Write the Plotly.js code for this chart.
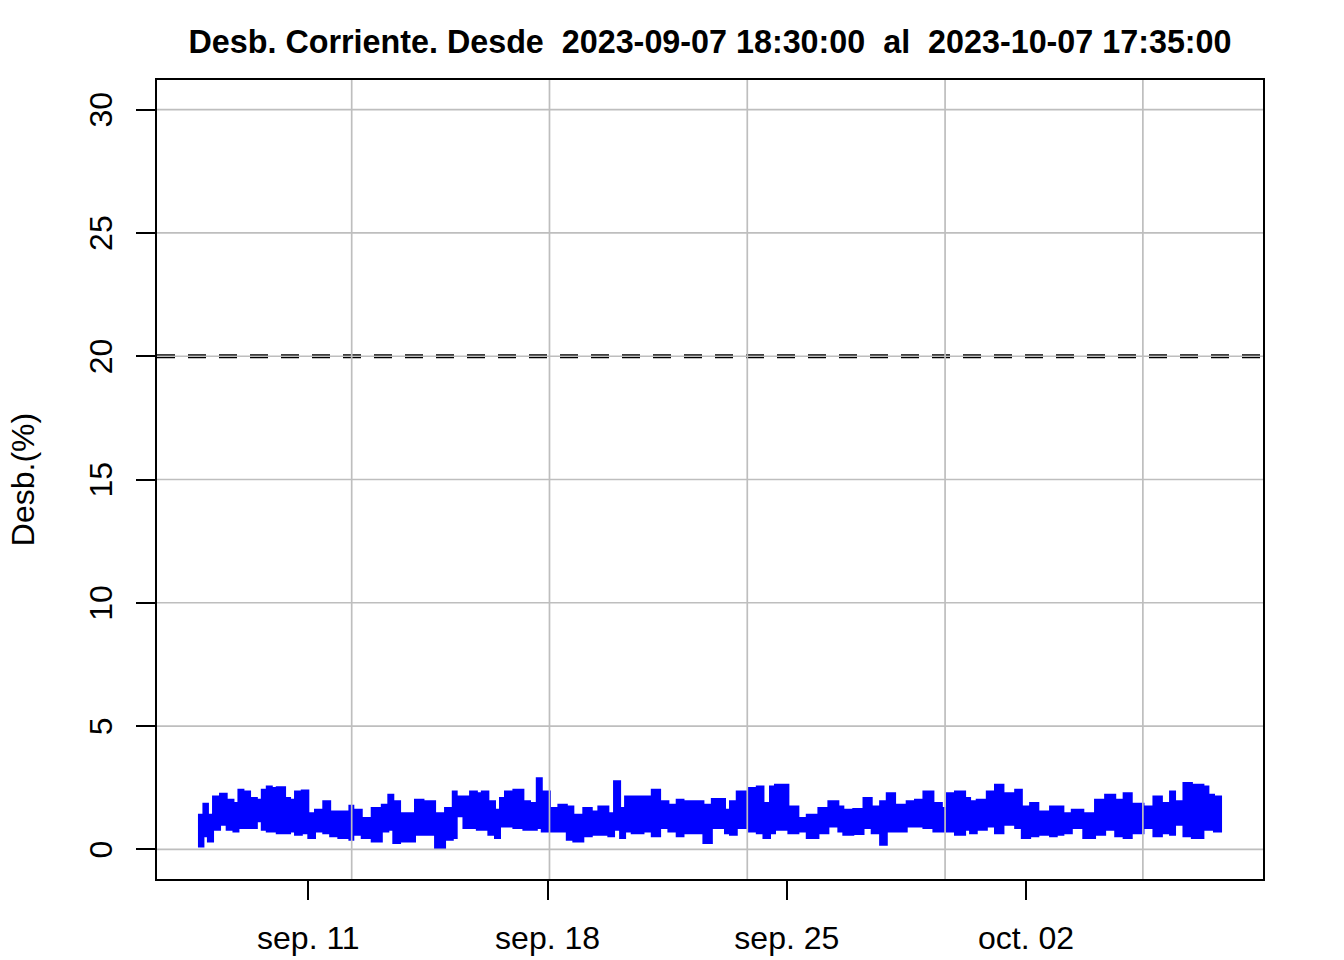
<!DOCTYPE html>
<html>
<head>
<meta charset="utf-8">
<script src="https://cdn.plot.ly/plotly-3.0.1.min.js"></script>
<style>html,body{margin:0;padding:0;background:#fff;}#chart{width:1344px;height:960px;}</style>
</head>
<body>
<div id="chart"></div>
<script>
// Envelope of the 5-minute current unbalance series
const times = [
"2023-09-07 18:30","2023-09-07 22:20","2023-09-08 01:30","2023-09-08 05:05","2023-09-08 10:00","2023-09-08 14:40","2023-09-08 19:25","2023-09-08 22:55",
"2023-09-09 02:25","2023-09-09 07:05","2023-09-09 11:50","2023-09-09 15:20","2023-09-09 18:50","2023-09-09 22:20","2023-09-10 01:50","2023-09-10 07:40",
"2023-09-10 11:10","2023-09-10 14:40","2023-09-10 19:25","2023-09-11 00:00","2023-09-11 04:40","2023-09-11 10:30","2023-09-11 15:20","2023-09-11 21:05",
"2023-09-12 04:50","2023-09-12 07:35","2023-09-12 13:30","2023-09-12 20:30","2023-09-13 03:35","2023-09-13 08:10","2023-09-13 11:40","2023-09-13 16:25",
"2023-09-14 02:55","2023-09-14 08:50","2023-09-14 17:00","2023-09-15 00:00","2023-09-15 05:25","2023-09-15 08:10","2023-09-15 12:55","2023-09-15 17:35",
"2023-09-15 22:20","2023-09-16 01:50","2023-09-16 06:25","2023-09-16 11:05","2023-09-16 14:35","2023-09-16 18:05","2023-09-17 00:00","2023-09-17 07:00",
"2023-09-17 11:40","2023-09-17 16:25","2023-09-17 19:55","2023-09-18 01:40","2023-09-18 07:35","2023-09-18 13:30","2023-09-18 18:05","2023-09-19 01:05",
"2023-09-19 07:00","2023-09-19 11:40","2023-09-19 18:40","2023-09-19 22:40","2023-09-20 02:55","2023-09-20 06:25","2023-09-20 11:05","2023-09-20 19:20",
"2023-09-21 01:10","2023-09-21 07:00","2023-09-21 12:50","2023-09-21 18:40","2023-09-21 23:25","2023-09-22 05:10","2023-09-22 13:25","2023-09-22 19:20",
"2023-09-23 04:35","2023-09-23 08:05","2023-09-23 12:50","2023-09-23 21:00","2023-09-24 02:55","2023-09-24 07:35","2023-09-24 12:10","2023-09-24 15:40",
"2023-09-25 01:05","2023-09-25 08:05","2023-09-25 14:00","2023-09-25 22:10","2023-09-26 05:10","2023-09-26 12:10","2023-09-26 15:40","2023-09-26 22:40",
"2023-09-27 05:50","2023-09-27 11:35","2023-09-27 17:30","2023-09-27 22:10","2023-09-28 04:00","2023-09-28 12:10","2023-09-28 18:00","2023-09-28 23:55",
"2023-09-29 06:55","2023-09-29 12:50","2023-09-29 16:20","2023-09-29 22:05","2023-09-30 05:10","2023-09-30 08:40","2023-09-30 13:20","2023-09-30 20:25",
"2023-10-01 02:10","2023-10-01 08:05","2023-10-01 16:20","2023-10-01 21:00","2023-10-02 02:50","2023-10-02 08:35","2023-10-02 16:50","2023-10-02 21:30",
"2023-10-03 02:10","2023-10-03 08:05","2023-10-03 16:10","2023-10-04 00:25","2023-10-04 07:30","2023-10-04 14:35","2023-10-04 20:30","2023-10-05 02:10",
"2023-10-05 10:25","2023-10-05 17:25","2023-10-05 23:20","2023-10-06 05:05","2023-10-06 08:35","2023-10-06 14:30","2023-10-06 20:25","2023-10-07 04:30",
"2023-10-07 08:00","2023-10-07 11:55","2023-10-07 17:35"
];
const upper = [
1.41,1.85,1.41,2.15,2.26,2.01,1.88,2.42,
2.35,2.08,2.01,2.42,2.55,2.49,2.52,2.08,
2.01,2.35,2.39,1.47,1.61,1.95,1.54,1.54,
1.77,1.61,1.27,1.68,1.81,2.22,1.95,1.47,
2.01,1.95,1.47,1.68,2.35,2.15,2.15,2.35,
2.28,2.35,1.95,1.61,2.08,2.35,2.42,1.95,
1.88,2.89,2.35,1.68,1.81,1.74,1.41,1.68,
1.54,1.74,1.47,2.76,1.68,2.15,2.15,2.15,
2.42,1.95,1.81,2.01,1.95,1.95,1.81,2.04,
1.61,1.95,2.35,2.49,2.55,1.88,2.55,2.62,
1.74,1.27,1.41,1.68,1.95,1.74,1.61,1.64,
2.08,1.74,1.95,2.28,1.81,1.95,2.01,2.35,
1.88,1.68,2.28,2.35,2.08,1.95,2.01,2.35,
2.62,2.28,2.42,1.74,1.88,1.54,1.74,1.74,
1.47,1.61,1.47,2.01,2.22,2.01,2.28,1.85,
1.74,2.15,1.88,2.35,1.95,2.69,2.62,2.55,
2.22,2.15,2.15
];
const lower = [
0.12,0.53,0.32,0.80,1.00,0.80,0.73,0.87,
0.87,0.87,1.14,0.80,0.73,0.73,0.66,0.66,
0.73,0.59,0.66,0.46,0.73,0.66,0.53,0.46,
0.39,0.59,0.46,0.32,0.73,0.80,0.26,0.32,
0.59,0.59,0.05,0.39,0.46,1.34,0.87,0.87,
0.80,0.80,0.59,0.46,0.93,0.93,0.87,0.80,
0.80,0.87,0.73,0.73,0.73,0.39,0.32,0.53,
0.59,0.59,0.53,0.80,0.46,0.73,0.66,0.73,
0.53,0.87,0.73,0.53,0.66,0.66,0.26,0.87,
0.66,0.59,0.87,0.73,0.66,0.46,0.66,0.80,
0.66,0.73,0.46,0.66,0.93,0.73,0.59,0.62,
0.87,0.66,0.19,0.73,0.73,0.93,0.93,0.87,
0.73,0.73,0.73,0.59,0.80,0.66,0.80,0.93,
0.66,1.00,0.87,0.46,0.53,0.59,0.53,0.59,
0.66,0.87,0.46,0.59,0.80,0.53,0.46,0.66,
0.87,0.53,0.66,0.59,1.00,0.53,0.46,0.80,
0.80,0.73,0.73
];
const yTicks = [0, 5, 10, 15, 20, 25, 30];
const xTickVals = ["2023-09-11 00:00","2023-09-18 00:00","2023-09-25 00:00","2023-10-02 00:00"];
const xTickText = ["sep. 11","sep. 18","sep. 25","oct. 02"];
const gridTimes = ["2023-09-12 06:26:40","2023-09-18 01:20:00","2023-09-23 20:13:20","2023-09-29 15:06:40","2023-10-05 10:00:00"];
const limitValue = 20;
const titleText = "Desb. Corriente. Desde\u00a0\u00a02023-09-07 18:30:00\u00a0\u00a0al\u00a0\u00a02023-10-07 17:35:00";

function toMs(s){ return Date.parse(s.replace(' ','T') + 'Z'); }
function fromMs(ms){ return new Date(ms).toISOString().slice(0,19).replace('T',' '); }
const t0 = toMs(times[0]), t1 = toMs(times[times.length-1]);
const padX = 0.04 * (t1 - t0);
const xRange = [fromMs(t0 - padX), fromMs(t1 + padX)];
const yRange = [0 - 0.04*30, 30 + 0.04*30];

const FONT = 'Liberation Sans, Arial, sans-serif';
const GRID = '#BEBEBE';

const shapes = [];
shapes.push({type:'line', xref:'paper', x0:0, x1:1, yref:'y', y0:limitValue, y1:limitValue,
  line:{color:'#000', width:4, dash:'18px,13px'}, layer:'above'});
yTicks.forEach(v => shapes.push({type:'line', xref:'paper', x0:0, x1:1, yref:'y', y0:v, y1:v,
  line:{color:GRID, width:1.6}, layer:'above'}));
gridTimes.forEach(t => shapes.push({type:'line', xref:'x', x0:t, x1:t, yref:'paper', y0:0, y1:1,
  line:{color:GRID, width:1.7}, layer:'above'}));

const traces = [
  {x:times, y:lower, type:'scatter', mode:'lines', line:{color:'#0000FF', width:2, shape:'hv'}, hoverinfo:'skip', showlegend:false},
  {x:times, y:upper, type:'scatter', mode:'lines', fill:'tonexty', fillcolor:'#0000FF', line:{color:'#0000FF', width:2, shape:'hv'}, hoverinfo:'skip', showlegend:false}
];

const layout = {
  width:1344, height:960,
  margin:{l:157, r:81, t:80, b:81},
  paper_bgcolor:'#fff', plot_bgcolor:'#fff',
  font:{family:FONT, size:32, color:'#000'},
  title:{text:titleText, font:{family:FONT, size:32.3, color:'#000', weight:'bold'}, x:0.5, xref:'paper', xanchor:'center', y:1-41.8/960, yref:'container', yanchor:'middle'},
  xaxis:{type:'date', range:xRange, tickmode:'array', tickvals:xTickVals, ticktext:xTickText,
    ticks:'outside', ticklen:19, tickwidth:2, tickcolor:'#000', showgrid:false, zeroline:false,
    showline:true, mirror:true, linecolor:'#000', linewidth:2, tickfont:{size:32}, ticklabelstandoff:11},
  yaxis:{range:yRange, tickmode:'array', tickvals:yTicks, ticktext:yTicks.map(String), tickangle:-90,
    ticks:'outside', ticklen:19, tickwidth:2, tickcolor:'#000', showgrid:false, zeroline:false,
    showline:true, mirror:true, linecolor:'#000', linewidth:2, tickfont:{size:32}, ticklabelstandoff:11,
    ticklabelshift:5,
    title:{text:'Desb.(%)', font:{size:32}, standoff:39}},
  shapes:shapes
};
Plotly.newPlot('chart', traces, layout, {staticPlot:true, displayModeBar:false});
</script>
</body>
</html>
